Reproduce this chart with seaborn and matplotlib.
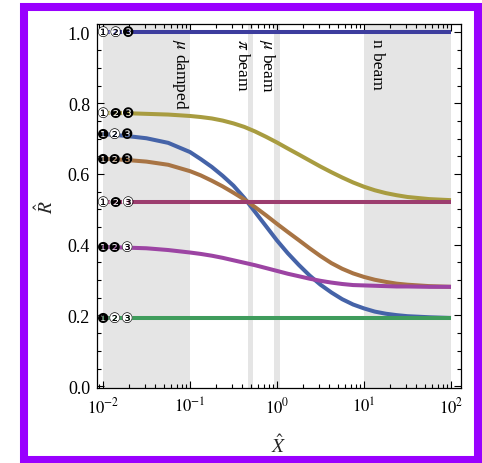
import matplotlib
matplotlib.use("Agg")
import matplotlib.pyplot as plt
import matplotlib.ticker as mticker
from matplotlib.patches import Rectangle
import seaborn as sns
import pandas as pd

# ---------------- data ----------------
x_vals = [0.01, 0.0178, 0.0316, 0.0562, 0.1, 0.133, 0.178, 0.237, 0.316, 0.422,
          0.562, 0.750, 1.0, 1.33, 1.78, 2.37, 3.16, 4.22, 5.62, 7.50,
          10.0, 13.3, 17.8, 23.7, 31.6, 56.2, 100.0]

r_top = [1.0] * 27
r_olive = [0.773, 0.772, 0.770, 0.768, 0.764, 0.761, 0.757, 0.751, 0.743, 0.733,
           0.720, 0.705, 0.689, 0.672, 0.655, 0.638, 0.621, 0.605, 0.590, 0.576,
           0.564, 0.554, 0.546, 0.540, 0.535, 0.529, 0.526]
r_blue = [0.713, 0.708, 0.701, 0.688, 0.662, 0.642, 0.620, 0.595, 0.567, 0.532,
          0.492, 0.452, 0.412, 0.376, 0.343, 0.313, 0.287, 0.265, 0.246, 0.231,
          0.220, 0.211, 0.205, 0.201, 0.198, 0.195, 0.193]
r_brown = [0.643, 0.640, 0.635, 0.626, 0.608, 0.596, 0.581, 0.565, 0.547, 0.528,
           0.506, 0.483, 0.459, 0.436, 0.413, 0.390, 0.368, 0.348, 0.332, 0.319,
           0.309, 0.301, 0.295, 0.290, 0.287, 0.283, 0.281]
r_maroon = [0.521] * 27
r_purple = [0.394, 0.392, 0.390, 0.385, 0.378, 0.374, 0.369, 0.363, 0.356, 0.349,
            0.342, 0.334, 0.326, 0.318, 0.311, 0.304, 0.298, 0.293, 0.289, 0.286,
            0.285, 0.284, 0.283, 0.282, 0.282, 0.281, 0.281]
r_green = [0.193] * 27

series_names = ["top", "olive", "blue", "brown", "maroon", "purple", "green"]
series_vals = [r_top, r_olive, r_blue, r_brown, r_maroon, r_purple, r_green]
series_colors = ["#3d3d9e", "#a89c40", "#4563a8", "#a87444", "#9c3d6e", "#9c44a3", "#3f9c5c"]

# circled-digit labels: 'w' = open circle, 'b' = filled circle
label_patterns = ["wwb", "wbb", "bwb", "bbb", "wbw", "bbw", "bww"]
label_start = [1.0, 0.773, 0.713, 0.643, 0.521, 0.394, 0.193]

regions = [(0.01, 0.1), (0.47, 0.53), (0.93, 1.08), (10.0, 100.0)]
region_labels = ["$\\mu$ damped", "$\\pi$ beam", "$\\mu$ beam", "n beam"]
region_label_x = [0.077, 0.40, 0.77, 14.0]

x_ticks = [0.01, 0.1, 1, 10, 100]
x_ticklabels = ["$10^{-2}$", "$10^{-1}$", "$10^{0}$", "$10^{1}$", "$10^{2}$"]
y_ticks = [0.0, 0.2, 0.4, 0.6, 0.8, 1.0]
y_ticklabels = ["0.0", "0.2", "0.4", "0.6", "0.8", "1.0"]

# ---------------- style ----------------
sns.set_style("ticks")
plt.rcParams["font.family"] = ["Liberation Serif", "DejaVu Serif"]
plt.rcParams["mathtext.fontset"] = "stix"

fig = plt.figure(figsize=(4.82, 4.64), dpi=100)
ax = fig.add_axes([97 / 482, (464 - 389) / 464, (461 - 97) / 482, (389 - 25) / 464])
ax.set_facecolor("white")

for (a, b) in regions:
    ax.axvspan(a, b, color="#e5e5e5", lw=0, zorder=0)

rows = []
for name, vals in zip(series_names, series_vals):
    for xv, yv in zip(x_vals, vals):
        rows.append({"X": xv, "R": yv, "series": name})
df = pd.DataFrame(rows)

sns.lineplot(data=df, x="X", y="R", hue="series", hue_order=series_names,
             palette=dict(zip(series_names, series_colors)), linewidth=2.9,
             legend=False, ax=ax, zorder=3, estimator=None, sort=True)
for ln in ax.get_lines():
    ln.set_solid_capstyle("butt")
    ln.set_solid_joinstyle("round")

ax.set_xscale("log")
ax.set_xlim(10 ** -2.069, 10 ** 2.115)
ax.set_ylim(-0.005, 1.024)

ax.set_xticks(x_ticks)
ax.set_xticklabels(x_ticklabels)
ax.xaxis.set_minor_locator(mticker.LogLocator(base=10, subs=range(2, 10), numticks=20))
ax.xaxis.set_minor_formatter(mticker.NullFormatter())
ax.set_yticks(y_ticks)
ax.set_yticklabels(y_ticklabels)
ax.yaxis.set_minor_locator(mticker.MultipleLocator(0.05))

ax.tick_params(which="both", direction="in", top=True, right=True, colors="black",
               width=0.8)
ax.tick_params(which="major", length=5)
ax.tick_params(which="minor", length=3)
ax.tick_params(axis="x", pad=6, labelsize=12)
ax.tick_params(axis="y", pad=5, labelsize=13)
for sp in ax.spines.values():
    sp.set_visible(True)
    sp.set_color("black")
    sp.set_linewidth(0.9)

ax.set_xlabel("$\\hat{X}$", fontsize=14, labelpad=12)
ax.set_ylabel("$\\hat{R}$", fontsize=14, labelpad=8)

for xl, lab in zip(region_label_x, region_labels):
    ax.text(xl, 0.985, lab, rotation=270, ha="center", va="top", fontsize=12.5,
            color="black", zorder=4)

glyph_w = ["\u2460", "\u2461", "\u2462"]
glyph_b = ["\u2776", "\u2777", "\u2778"]
fam = ["DejaVu Sans", "Noto Sans CJK JP"]
for pat, yv in zip(label_patterns, label_start):
    s = "".join(glyph_b[i] if c == "b" else glyph_w[i] for i, c in enumerate(pat))
    base = "".join(glyph_b)
    ax.text(0.0085, yv, base, ha="left", va="center", fontsize=10, color="white",
            family=fam, zorder=5)
    ax.text(0.0085, yv, s, ha="left", va="center", fontsize=10, color="black",
            family=fam, zorder=6)

# purple frame
fig.add_artist(Rectangle((24 / 482, 3 / 464), (478 - 24) / 482, (461 - 8) / 464,
                         transform=fig.transFigure, fill=False, edgecolor="#9900ff",
                         linewidth=5.8, zorder=10))

fig.savefig("out.png", dpi=100, facecolor="white")
